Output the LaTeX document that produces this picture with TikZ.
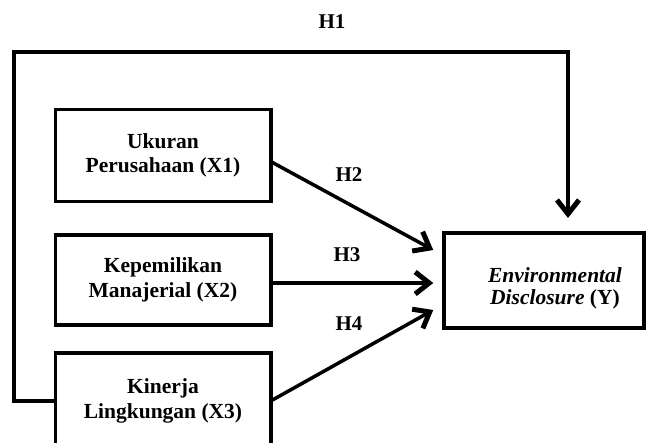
\documentclass[tikz,border=0pt]{standalone}
\usepackage{fontspec}
\setmainfont{Liberation Serif}
\usetikzlibrary{arrows.meta,calc}
\begin{document}
\begin{tikzpicture}[x=1pt,y=-1pt,
  box/.style={draw,line width=3.5pt,inner sep=0pt,align=center,
    font=\fontsize{21.5}{24.5}\selectfont\bfseries},
  hlabel/.style={inner sep=0pt,font=\fontsize{21}{24}\selectfont\bfseries},
  conn/.style={line width=3.5pt,line join=miter},
  arr/.style={line width=3.5pt,line join=miter,-{Straight Barb[length=14pt,width=22pt,line width=5pt]}}]
\useasboundingbox (0,0) rectangle (651,443);
\node[box,minimum width=215.5pt,minimum height=92pt] (X1) at (163,155.5) {Ukuran\\Perusahaan (X1)};
\node[box,minimum width=215.5pt,minimum height=90pt] (X2) at (163,280) {Kepemilikan\\Manajerial (X2)};
\node[box,minimum width=215.5pt,minimum height=96pt] (X3) at (163,401) {Kinerja\\Lingkungan (X3)};
\node[box,minimum width=200pt,minimum height=95pt] (Y) at (544,280.5) {};
\node[inner sep=0pt,align=center,font=\fontsize{21.5}{22}\selectfont\bfseries] (Ytext) at (555,288)
  {\textit{Environmental}\\\textit{Disclosure} (Y)};
\coordinate (tl) at (14,52);
\coordinate (h1end) at (568,218);
% H1 frame
\draw[arr] (X3.west) -| (tl) -| (h1end);
\draw[conn] ($(X1.west)+(0,5.5)$) -- ($(X1.west)+(0,5.5)$ -| tl);
\draw[conn] ($(X2.west)+(0,3)$) -- ($(X2.west)+(0,3)$ -| tl);
% arrows to Y
\draw[arr] ($(X1.east)+(0,7)$) -- ($(Y.west)+(-9,-30.5)$);
\draw[arr] ($(X2.east)+(0,3)$) -- ($(Y.west)+(-9,2.5)$);
\draw[arr] ($(X3.east)+(0,-1)$) -- ($(Y.west)+(-9,29.5)$);
% labels
\node[hlabel] (H1) at (332,22) {H1};
\node[hlabel] (H2) at (349,175) {H2};
\node[hlabel] (H3) at (347,255) {H3};
\node[hlabel] (H4) at (349,324) {H4};
\end{tikzpicture}
\end{document}
